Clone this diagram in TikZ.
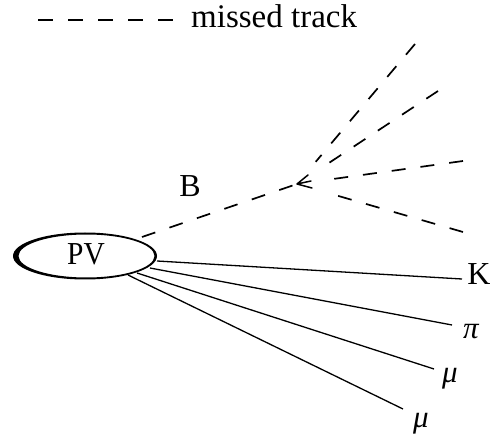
\documentclass[tikz,border=0pt]{standalone}
\usepackage{fontspec}
\setmainfont{Liberation Serif}
\begin{document}
\begin{tikzpicture}[x=1pt,y=-1pt,
  lbl/.style={font=\fontsize{32}{38}\selectfont, inner sep=0pt, anchor=base},
  glbl/.style={font=\fontsize{31}{37}\selectfont\itshape, inner sep=0pt, anchor=base},
  trk/.style={line width=1.3pt},
  miss/.style={line width=1.7pt, dash pattern=on 14pt off 15pt},
  barb/.style={line width=1.5pt, line cap=round},
]
\useasboundingbox (0,0) rectangle (490,438);

% legend
\coordinate (l1) at (38,20);
\coordinate (l2) at (173,20);
\draw[miss, dash pattern=on 15pt off 15pt] (l1) -- (l2);
\node[lbl, anchor=base west, font=\fontsize{33}{38}\selectfont] (leg) at (191,28) {missed track};

% primary vertex
\fill[even odd rule] (85,256) ellipse [x radius=72, y radius=23.5]
                     (86.5,256) ellipse [x radius=68, y radius=21.5];
\node[lbl, anchor=center, xscale=0.92] (pv) at (86,254) {PV};

% B line and decay vertex
\coordinate (pvB) at (142,237);
\coordinate (V) at (297,184);
\draw[miss] (pvB) -- (V);
\coordinate (bu) at (308,175);
\coordinate (bm) at (311,181);
\coordinate (bl) at (312,188);
\draw[barb] (V) -- (bu) (V) -- (bm) (V) -- (bl);
\node[lbl] (B) at (190,197) {B};

% missed daughter tracks
\coordinate (d1) at (415,44);
\coordinate (d2) at (438,91);
\coordinate (d3) at (463,161);
\coordinate (d4) at (463,232);
\foreach \d in {d1,d2,d3,d4}
  \draw[miss, shorten >=29pt] (\d) -- (V);

% solid tracks
\coordinate (sK) at (157,261);
\coordinate (sP) at (150,268);
\coordinate (sM) at (137,273);
\coordinate (sN) at (128,275);
\coordinate (eK) at (462,279);
\coordinate (eP) at (452,325);
\coordinate (eM) at (434,369);
\coordinate (eN) at (403,409);
\draw[trk] (sK) -- (eK);
\draw[trk] (sP) -- (eP);
\draw[trk] (sM) -- (eM);
\draw[trk] (sN) -- (eN);

\node[lbl] (K) at (479,285) {K};
\node[glbl] (pi) at (471,338) {π};
\node[glbl] (mu1) at (450,382) {μ};
\node[glbl] (mu2) at (421,427) {μ};
\end{tikzpicture}
\end{document}
